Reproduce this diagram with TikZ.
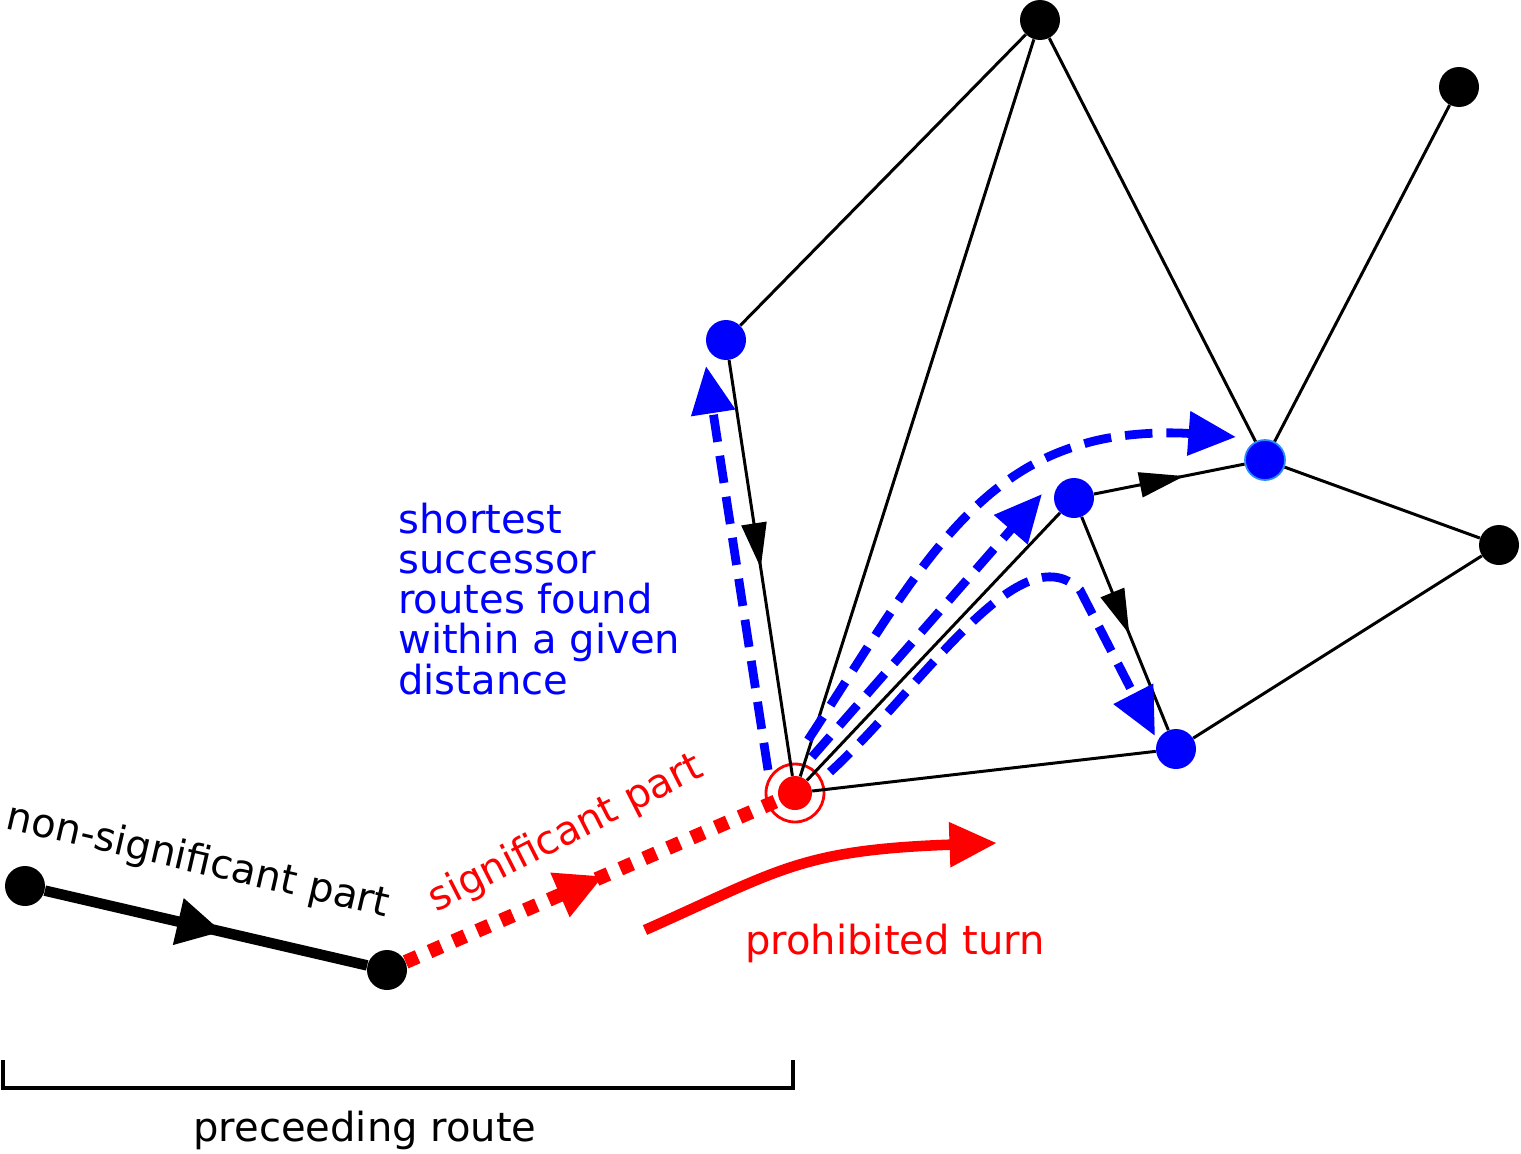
\documentclass[tikz,border=0pt]{standalone}
\usepackage{fontspec}
\setmainfont{DejaVu Sans}
\usetikzlibrary{arrows.meta,decorations.markings}

\begin{document}
\begin{tikzpicture}[x=0.02cm,y=-0.02cm]
    \tikzset{every node/.style={font=\fontsize{22.8}{26}\selectfont}}
    \tikzset{dot/.style={circle,fill=black,inner sep=0pt,minimum size=0.8cm}}
    \tikzset{bdot/.style={dot,fill=blue}}
    \tikzset{edge/.style={line width=1.7pt}}
    \tikzset{midarrow/.style={postaction={decorate},decoration={markings,
        mark=at position #1 with {\arrow{Triangle[length=0.9cm,width=0.5cm]}}}}}
    \tikzset{bigtip/.style={-{Triangle[length=0.95cm,width=0.85cm]}}}
    \tikzset{bluedash/.style={blue,line width=5pt,dash pattern=on 0.55cm off 0.28cm,bigtip}}
    \useasboundingbox (0,0) rectangle (1521,1153);

    \node[dot] (a) at (25,886) {};
    \node[dot] (b) at (387,970) {};
    \node[dot] (t) at (1040,20) {};
    \node[dot] (tr) at (1459,87) {};
    \node[dot] (e) at (1499,545) {};
    \node[bdot] (p) at (726,340) {};
    \node[bdot,draw={rgb,255:red,40;green,140;blue,255},line width=1pt] (q) at (1265,460) {};
    \node[bdot] (m) at (1074,498) {};
    \node[bdot] (s) at (1176,749) {};
    \node[circle,fill=red,inner sep=0pt,minimum size=0.68cm] (r) at (795,793) {};
    \draw[red,line width=1.6pt] (r) circle (0.58cm);

    % network
    \draw[edge] (p) -- (t);
    \draw[edge] (t) -- (r);
    \draw[edge] (t) -- (q);
    \draw[edge] (q) -- (tr);
    \draw[edge] (q) -- (e);
    \draw[edge] (e) -- (s);
    \draw[edge] (s) -- (r);
    \draw[edge] (r) -- (m);
    \draw[edge,midarrow=0.6] (m) -- (q);
    \draw[edge,midarrow=0.55] (m) -- (s);
    \draw[edge,midarrow=0.5] (p) -- (r);

    % preceding route
    \draw[line width=6pt,decoration={markings,mark=at position 0.55 with {\arrow{Triangle[length=0.9cm,width=0.9cm]}}},postaction={decorate}] (a) -- (b);
    \draw[red,line width=8pt,dash pattern=on 0.26cm off 0.26cm,decoration={markings,mark=at position 0.53 with {\arrow[solid]{Triangle[length=0.95cm,width=0.9cm]}}},postaction={decorate}] (b) -- (r);
    \coordinate (pt1) at (645,930);
    \coordinate (pt2) at (997,843);
    \draw[red,line width=6pt,bigtip] (pt1) .. controls (780,870) and (800,850) .. (pt2);

    % successor routes
    \draw[bluedash] (768,770) -- (706,366);
    \draw[bluedash] (812,757) -- (1042,494);
    \draw[bluedash] (830,772) .. controls (920,690) and (1020,530) .. (1080,590) -- (1155,736);
    \draw[bluedash] (808,740) .. controls (900,600) and (960,480) .. (1080,445) .. controls (1120,432) and (1170,432) .. (1236,437);

    % labels
    \node[blue,align=left,anchor=north west,inner sep=0pt,font=\fontsize{22.8}{22.8}\selectfont] (txt) at (398,503) {shortest\\successor\\routes found\\within a given\\distance};
    \node[rotate=-13] (ns) at (198,862) {non-significant part};
    \node[red,rotate=27] (sp) at (566,834) {significant part};
    \node[red] (pr) at (895,943) {prohibited turn};

    \coordinate (k1) at (3,1060);
    \coordinate (k2) at (793,1060);
    \draw[line width=1.8pt] (k1) -- (3,1088) -- (793,1088) -- (k2);
    \node (pre) at (365,1130) {preceeding route};
\end{tikzpicture}
\end{document}
